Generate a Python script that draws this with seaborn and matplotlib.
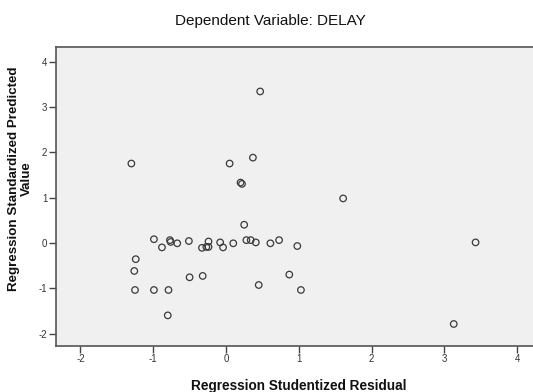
import matplotlib
matplotlib.use("Agg")
import matplotlib.pyplot as plt
import seaborn as sns
import pandas as pd

# studentized residual (x) vs standardized predicted value (y)
resid = [0.47, -1.30, 0.05, 0.37, 0.20, 0.22, 1.61, 0.25, -0.99, -0.88,
         -0.77, -0.76, -0.67, -0.51, -0.33, -0.27, -0.24, -0.24, -0.08, -0.04,
         0.10, 0.28, 0.34, 0.41, 0.61, 0.73, 0.98, 3.43, -1.24, -1.26,
         -1.25, -0.99, -0.79, -0.50, -0.32, 0.45, 0.87, 1.03, -0.80, 3.13]
pred = [3.34, 1.75, 1.75, 1.88, 1.33, 1.30, 0.98, 0.40, 0.08, -0.10,
        0.06, 0.02, -0.01, 0.04, -0.11, -0.09, -0.09, 0.03, 0.01, -0.10,
        -0.01, 0.06, 0.06, 0.01, -0.01, 0.06, -0.07, 0.01, -0.36, -0.62,
        -1.04, -1.04, -1.04, -0.76, -0.73, -0.93, -0.70, -1.04, -1.60, -1.79]
xticks = [-2, -1, 0, 1, 2, 3, 4]
yticks = [-2, -1, 0, 1, 2, 3, 4]

df = pd.DataFrame({'resid': resid, 'pred': pred})

sns.set_style("white")
plt.rcParams['font.family'] = ['Liberation Sans', 'DejaVu Sans']
plt.rcParams['axes.unicode_minus'] = False

fig = plt.figure(figsize=(5.33, 3.92), dpi=100)
ax = fig.add_axes([0.1045, 0.118, 0.912, 0.762])
ax.set_facecolor('#f0f0f0')

sns.scatterplot(data=df, x='resid', y='pred', ax=ax, marker='o', s=22,
                facecolor='none', edgecolor='#3a3a3a', linewidth=0.9)

ax.set_xlim(-2.34, 4.34)
ax.set_ylim(-2.27, 4.32)
ax.set_xticks(xticks)
ax.set_yticks(yticks)
ax.tick_params(axis='both', direction='out', length=5, width=1, color='#444444',
               labelsize=7, labelcolor='#333333', pad=1, bottom=True, left=True)
for side in ['left', 'bottom', 'top']:
    ax.spines[side].set_color('#555555')
    ax.spines[side].set_linewidth(1.2)
ax.spines['right'].set_visible(False)
ax.set_xlabel('')
ax.set_ylabel('')

fig.text(0.508, 0.946, 'Dependent Variable: DELAY', ha='center', va='center',
         fontsize=11, color='#111111')
fig.text(0.561, 0.015, 'Regression Studentized Residual', ha='center', va='center',
         fontsize=9.8, fontweight='bold', color='#111111')
fig.text(0.039, 0.545, 'Regression Standardized Predicted\nValue', ha='center',
         va='center', rotation=90, fontsize=9.6, fontweight='bold', color='#111111',
         multialignment='center', linespacing=1.1)

fig.savefig('out.png', dpi=100)
